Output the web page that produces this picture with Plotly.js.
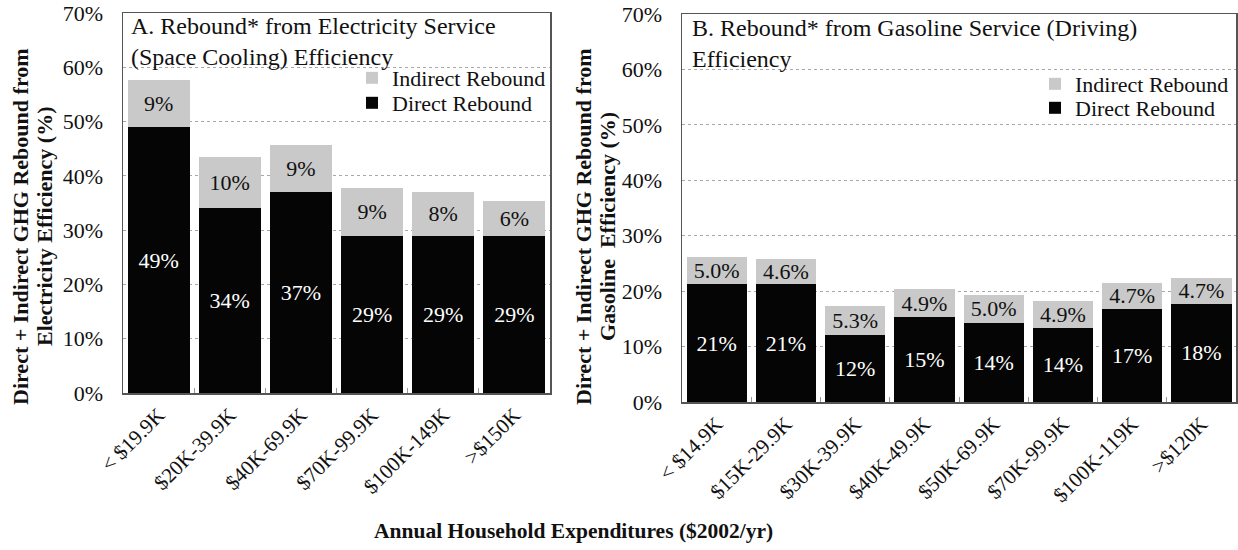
<!DOCTYPE html>
<html>
<head>
<meta charset="utf-8">
<script src="https://cdn.plot.ly/plotly-3.0.1.min.js"></script>
<style>
  html, body { margin: 0; padding: 0; background: #ffffff; }
  #chart { width: 1238px; height: 550px; }
</style>
</head>
<body>
<div id="chart"></div>
<script>
// ---- Data ----
const elecCategories = ['< $19.9K', '$20K-39.9K', '$40K-69.9K', '$70K-99.9K', '$100K-149K', '>$150K'];
const elecDirect = [49, 34, 37, 29, 29, 29];
const elecIndirect = [8.6, 9.5, 8.7, 8.8, 8.0, 6.4];
const elecDirectLabels = ['49%', '34%', '37%', '29%', '29%', '29%'];
const elecIndirectLabels = ['9%', '10%', '9%', '9%', '8%', '6%'];

const gasCategories = ['< $14.9K', '$15K-29.9K', '$30K-39.9K', '$40K-49.9K', '$50K-69.9K', '$70K-99.9K', '$100K-119K', '>$120K'];
const gasDirect = [21.2, 21.2, 12.0, 15.4, 14.3, 13.4, 16.8, 17.7];
const gasIndirect = [5.0, 4.6, 5.3, 4.9, 5.0, 4.9, 4.7, 4.7];
const gasDirectLabels = ['21%', '21%', '12%', '15%', '14%', '14%', '17%', '18%'];
const gasIndirectLabels = ['5.0%', '4.6%', '5.3%', '4.9%', '5.0%', '4.9%', '4.7%', '4.7%'];

const seriesNames = ['Direct Rebound', 'Indirect Rebound'];
const yTickValues = [0, 10, 20, 30, 40, 50, 60, 70];
const yTickLabels = ['0%', '10%', '20%', '30%', '40%', '50%', '60%', '70%'];

// ---- Styling ----
const FONT = 'Liberation Serif, DejaVu Serif, serif';
const DIRECT_COLOR = '#050505';
const INDIRECT_COLOR = '#c9c9c9';
const W = 1238, H = 550;
const px = v => v / W;
const py = v => 1 - v / H;

function barTrace(cats, vals, labels, name, color, textColor, xa, ya, legend) {
  return {
    type: 'bar',
    x: cats,
    y: vals,
    name: name,
    text: labels,
    texttemplate: '%{text}',
    textposition: 'inside',
    insidetextanchor: 'middle',
    constraintext: 'none',
    textangle: 0,
    textfont: { family: FONT, size: 22, color: textColor },
    marker: { color: color, line: { width: 0 } },
    xaxis: xa,
    yaxis: ya,
    legend: legend,
    hoverinfo: 'x+y+name'
  };
}

const data = [
  barTrace(elecCategories, elecDirect, elecDirectLabels, seriesNames[0], DIRECT_COLOR, '#ffffff', 'x', 'y', 'legend2'),
  barTrace(elecCategories, elecIndirect, elecIndirectLabels, seriesNames[1], INDIRECT_COLOR, '#111111', 'x', 'y', 'legend'),
  barTrace(gasCategories, gasDirect, gasDirectLabels, seriesNames[0], DIRECT_COLOR, '#ffffff', 'x2', 'y2', 'legend4'),
  barTrace(gasCategories, gasIndirect, gasIndirectLabels, seriesNames[1], INDIRECT_COLOR, '#111111', 'x2', 'y2', 'legend3')
];

function xAxis(domain, anchor) {
  return {
    domain: domain,
    anchor: anchor,
    type: 'category',
    showline: true,
    linecolor: '#555555',
    linewidth: 1.5,
    mirror: true,
    ticks: 'inside',
    tickson: 'boundaries',
    ticklen: 5,
    tickcolor: '#999999',
    tickwidth: 1,
    tickangle: -45,
    tickfont: { family: FONT, size: 21, color: '#111111' },
    showgrid: false,
    zeroline: false,
    automargin: false,
    fixedrange: true
  };
}

function yAxis(domain, anchor) {
  return {
    domain: domain,
    anchor: anchor,
    range: [0, 70],
    tickmode: 'array',
    tickvals: yTickValues,
    ticktext: yTickLabels,
    showline: true,
    linecolor: '#555555',
    linewidth: 1.5,
    mirror: true,
    ticks: '',
    ticklabelstandoff: 14,
    tickfont: { family: FONT, size: 22, color: '#111111' },
    showgrid: true,
    gridcolor: '#a8a8a8',
    gridwidth: 1,
    griddash: 'dot',
    zeroline: false,
    automargin: false,
    fixedrange: true
  };
}

const legendBase = {
  orientation: 'v',
  xanchor: 'left',
  yanchor: 'top',
  bgcolor: 'rgba(0,0,0,0)',
  borderwidth: 0,
  itemwidth: 30,
  tracegroupgap: 0,
  font: { family: FONT, size: 22, color: '#111111' }
};

const layout = {
  width: W,
  height: H,
  margin: { l: 0, r: 0, t: 0, b: 0 },
  paper_bgcolor: '#ffffff',
  plot_bgcolor: '#ffffff',
  barmode: 'stack',
  bargap: 0.13,
  font: { family: FONT, color: '#111111' },
  showlegend: true,
  xaxis: xAxis([px(123), px(550)], 'y'),
  yaxis: yAxis([1 - 393 / H, 1 - 13 / H], 'x'),
  xaxis2: xAxis([px(682), px(1236)], 'y2'),
  yaxis2: yAxis([1 - 402 / H, 1 - 14 / H], 'x2'),
  legend: Object.assign({}, legendBase, { x: px(352), y: py(57) }),
  legend2: Object.assign({}, legendBase, { x: px(352), y: py(82) }),
  legend3: Object.assign({}, legendBase, { x: px(1035), y: py(63) }),
  legend4: Object.assign({}, legendBase, { x: px(1035), y: py(87) }),
  annotations: [
    { text: 'A. Rebound* from Electricity Service<br>(Space Cooling) Efficiency', xref: 'paper', yref: 'paper',
      x: px(129), y: py(11), xanchor: 'left', yanchor: 'top', align: 'left', showarrow: false,
      font: { family: FONT, size: 24, color: '#111111' } },
    { text: 'B. Rebound* from Gasoline Service (Driving)<br>Efficiency', xref: 'paper', yref: 'paper',
      x: px(690), y: py(13), xanchor: 'left', yanchor: 'top', align: 'left', showarrow: false,
      font: { family: FONT, size: 24, color: '#111111' } },
    { text: '<b>Direct + Indirect GHG Rebound from</b>', xref: 'paper', yref: 'paper',
      x: px(20), y: py(227), xanchor: 'center', yanchor: 'middle', textangle: -90, showarrow: false,
      font: { family: FONT, size: 22, color: '#111111' } },
    { text: '<b>Electricity Efficiency (%)</b>', xref: 'paper', yref: 'paper',
      x: px(44), y: py(227), xanchor: 'center', yanchor: 'middle', textangle: -90, showarrow: false,
      font: { family: FONT, size: 22, color: '#111111' } },
    { text: '<b>Direct + Indirect GHG Rebound from</b>', xref: 'paper', yref: 'paper',
      x: px(583), y: py(227), xanchor: 'center', yanchor: 'middle', textangle: -90, showarrow: false,
      font: { family: FONT, size: 22, color: '#111111' } },
    { text: '<b>Gasoline  Efficiency (%)</b>', xref: 'paper', yref: 'paper',
      x: px(607), y: py(227), xanchor: 'center', yanchor: 'middle', textangle: -90, showarrow: false,
      font: { family: FONT, size: 22, color: '#111111' } },
    { text: '<b>Annual Household Expenditures ($2002/yr)</b>', xref: 'paper', yref: 'paper',
      x: px(573), y: py(531), xanchor: 'center', yanchor: 'middle', showarrow: false,
      font: { family: FONT, size: 21.5, color: '#111111' } }
  ]
};

Plotly.newPlot('chart', data, layout, { displayModeBar: false, staticPlot: true });
</script>
</body>
</html>
